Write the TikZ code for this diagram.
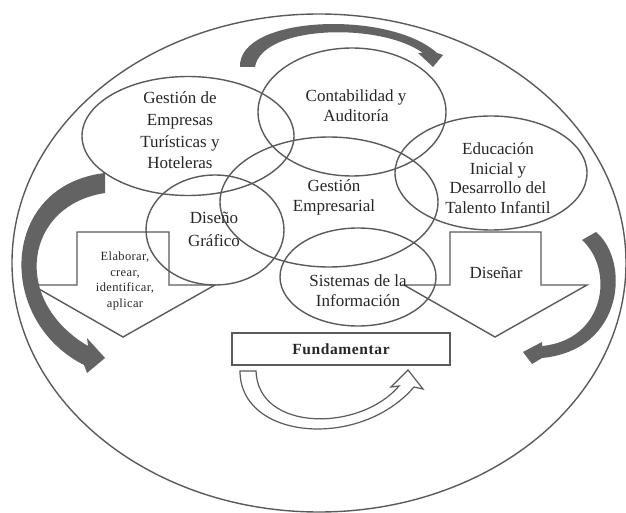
\documentclass[tikz,border=0pt]{standalone}
\usepackage{fontspec}
\setmainfont{Liberation Serif}
\usetikzlibrary{shapes.geometric}
\definecolor{ln}{HTML}{5A5A5A}
\definecolor{band}{HTML}{636363}
\tikzset{
  oval/.style={draw=ln, line width=1.4pt, ellipse, inner sep=0pt, fill=none},
  txt/.style={align=center, text=black!85, font=\fontsize{17}{20.5}\selectfont, inner sep=0pt},
  small/.style={align=center, text=black!85, font=\fontsize{12.5}{15.5}\selectfont\addfontfeature{LetterSpace=3}, inner sep=0pt},
  blockarrow/.style={draw=ln, line width=1.4pt, line join=miter},
  darkband/.style={fill=band, draw=none},
  hollow/.style={draw=ln, line width=1.2pt, fill=white, line join=miter}
}
\begin{document}
\begin{tikzpicture}[x=1pt, y=-1pt]
\useasboundingbox (0,0) rectangle (626,513);
% outer ellipse
\node[oval, minimum width=614pt, minimum height=498pt] (outer) at (319,263) {};
% block arrows
\draw[blockarrow] (77,232) -- (169,232) -- (169,285) -- (215,285) -- (123,337) -- (32,285) -- (77,285) -- cycle;
\draw[blockarrow] (450,232) -- (541,232) -- (541,285) -- (587,285) -- (495,337) -- (404,285) -- (450,285) -- cycle;
% ellipses
\node[oval, minimum width=212pt, minimum height=119pt] (ge) at (188,136) {};
\node[oval, minimum width=188pt, minimum height=128pt] (ca) at (352,112) {};
\node[oval, minimum width=218pt, minimum height=130pt] (gm) at (329,202) {};
\node[oval, minimum width=192pt, minimum height=114pt] (ed) at (491,173) {};
\node[oval, minimum width=138pt, minimum height=110pt] (dg) at (215,230) {};
\node[oval, minimum width=156pt, minimum height=98pt] (si) at (358,277) {};
% texts
\node[txt, font=\fontsize{17}{21.7}\selectfont] (tge) at (180,130.5) {Gestión de\\Empresas\\Turísticas y\\Hoteleras};
\node[txt, font=\fontsize{17}{19.5}\selectfont] (tca) at (356,105.5) {Contabilidad y\\Auditoría};
\node[txt, font=\fontsize{17}{19.5}\selectfont] (ted) at (498,178) {Educación\\Inicial y\\Desarrollo del\\Talento Infantil};
\node[txt, font=\fontsize{17}{20}\selectfont] (tgm) at (334,197) {Gestión\\Empresarial};
\node[txt, font=\fontsize{17}{23}\selectfont] (tdg) at (214,229.5) {Diseño\\Gráfico};
\node[txt, font=\fontsize{17}{19.5}\selectfont] (tsi) at (358,290.5) {Sistemas de la\\Información};
\node[small] (tel) at (125,281) {Elaborar,\\crear,\\identificar,\\aplicar};
\node[txt] (tdi) at (496,273) {Diseñar};
% Fundamentar box
\node[draw=ln, line width=1.4pt, minimum width=218pt, minimum height=32pt, inner sep=0pt,
      font=\fontsize{15.5}{18}\selectfont\bfseries\addfontfeature{LetterSpace=4}, text=black!85] (fu) at (341,349) {Fundamentar};
% dark curved bands
\fill[darkband] (240,67) .. controls (238,15) and (390,10) .. (437,53) -- (443,55) -- (433,67) -- (418,53) -- (423,53) .. controls (380,22) and (262,25) .. (255,67) -- cycle;
\fill[darkband] (105,173) -- (105,193) .. controls (25,205) and (10,300) .. (88,346) -- (87,338) -- (105,358) -- (87,373) -- (84,365) .. controls (-5,320) and (0,185) .. (105,173) -- cycle;
\fill[darkband] (582,240) .. controls (615,270) and (605,340) .. (542,346) -- (542,342) -- (523,352) -- (532,364) -- (542,358) .. controls (625,350) and (630,260) .. (596,232) -- cycle;
% hollow arrow under Fundamentar
\draw[hollow] (240,371) .. controls (240,440) and (360,450) .. (414,387) -- (423,389) -- (408,370) -- (391,387) -- (399,386) .. controls (360,432) and (258,432) .. (256,371) -- cycle;
\end{tikzpicture}
\end{document}
